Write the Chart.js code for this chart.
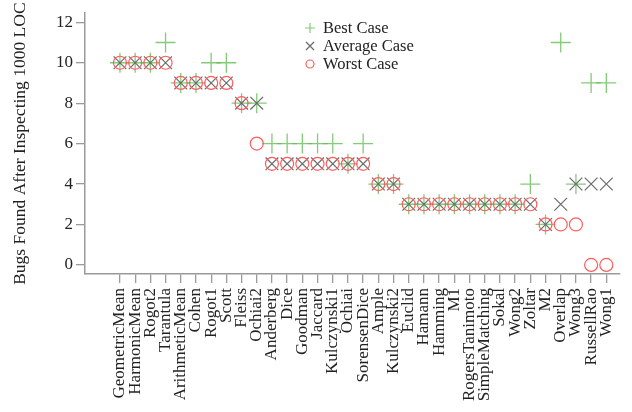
<!DOCTYPE html>
<html>
<head>
<meta charset="utf-8">
<script src="https://cdn.jsdelivr.net/npm/chart.js@4/dist/chart.umd.min.js"></script>
<style>
  html, body { margin: 0; padding: 0; background: #fff; }
  #wrap { width: 632px; height: 412px; position: relative; }
</style>
</head>
<body>
<div id="wrap"><canvas id="bugsChart"></canvas></div>
<script>
// 度量名称 (x 轴)
const metrics = [
  'GeometricMean', 'HarmonicMean', 'Rogot2', 'Tarantula', 'ArithmeticMean', 'Cohen',
  'Rogot1', 'Scott', 'Fleiss', 'Ochiai2', 'Anderberg', 'Dice', 'Goodman', 'Jaccard',
  'Kulczynski1', 'Ochiai', 'SorensenDice', 'Ample', 'Kulczynski2', 'Euclid', 'Hamann',
  'Hamming', 'M1', 'RogersTanimoto', 'SimpleMatching', 'Sokal', 'Wong2', 'Zoltar',
  'M2', 'Overlap', 'Wong3', 'RussellRao', 'Wong1'
];

const bestCase    = [10, 10, 10, 11, 9, 9, 10, 10, 8, 8, 6, 6, 6, 6, 6, 5, 6, 4, 4, 3, 3, 3, 3, 3, 3, 3, 3, 4, 2, 11, 4, 9, 9];
const averageCase = [10, 10, 10, 10, 9, 9, 9, 9, 8, 8, 5, 5, 5, 5, 5, 5, 5, 4, 4, 3, 3, 3, 3, 3, 3, 3, 3, 3, 2, 3, 4, 4, 4];
const worstCase   = [10, 10, 10, 10, 9, 9, 9, 9, 8, 6, 5, 5, 5, 5, 5, 5, 5, 4, 4, 3, 3, 3, 3, 3, 3, 3, 3, 3, 2, 2, 2, 0, 0];

const yTicks = [0, 1, 2, 3, 4, 5, 6, 7, 8, 9, 10, 11, 12];

const GREEN = 'rgba(100, 190, 85, 0.8)';
const GREY = '#6a6a6a';
const RED = '#ff5c5c';
const AXIS = '#9a9a9a';
const FONT = "'Liberation Serif', 'DejaVu Serif', serif";

const toPoints = (values) => values.map((v, i) => ({ x: i, y: v }));

// 图内图例
const insideLegend = {
  id: 'insideLegend',
  afterDraw(chart) {
    const ctx = chart.ctx;
    const items = [
      { text: 'Best Case', style: 'plus', color: GREEN },
      { text: 'Average Case', style: 'x', color: GREY },
      { text: 'Worst Case', style: 'circle', color: RED }
    ];
    const x0 = 310, y0 = 28, dy = 18;
    ctx.save();
    ctx.font = `16.5px ${FONT}`;
    ctx.textBaseline = 'middle';
    ctx.textAlign = 'left';
    items.forEach((it, k) => {
      const y = y0 + k * dy;
      ctx.strokeStyle = it.color;
      ctx.lineWidth = 1.2;
      ctx.beginPath();
      if (it.style === 'plus') {
        ctx.moveTo(x0 - 5, y); ctx.lineTo(x0 + 5, y);
        ctx.moveTo(x0, y - 5); ctx.lineTo(x0, y + 5);
      } else if (it.style === 'x') {
        ctx.moveTo(x0 - 4, y - 4); ctx.lineTo(x0 + 4, y + 4);
        ctx.moveTo(x0 - 4, y + 4); ctx.lineTo(x0 + 4, y - 4);
      } else {
        ctx.arc(x0, y, 4, 0, Math.PI * 2);
      }
      ctx.stroke();
      ctx.fillStyle = '#222';
      ctx.fillText(it.text, x0 + 13, y + 1);
    });
    ctx.restore();
  }
};

new Chart(document.getElementById('bugsChart').getContext('2d'), {
  type: 'scatter',
  data: {
    datasets: [
      {
        label: 'Best Case',
        data: toPoints(bestCase),
        pointStyle: 'cross',
        pointRadius: 10,
        borderColor: GREEN,
        backgroundColor: 'transparent',
        pointBorderWidth: 1.3,
        order: 3
      },
      {
        label: 'Average Case',
        data: toPoints(averageCase),
        pointStyle: 'crossRot',
        pointRadius: 9,
        borderColor: GREY,
        backgroundColor: 'transparent',
        pointBorderWidth: 1.2,
        order: 2
      },
      {
        label: 'Worst Case',
        data: toPoints(worstCase),
        pointStyle: 'circle',
        pointRadius: 6.5,
        borderColor: RED,
        backgroundColor: 'transparent',
        pointBorderWidth: 1.2,
        order: 1
      }
    ]
  },
  options: {
    responsive: true,
    maintainAspectRatio: false,
    animation: false,
    layout: { padding: { top: 9, left: 10, right: 6, bottom: 0 } },
    plugins: {
      legend: { display: false },
      tooltip: { enabled: false }
    },
    scales: {
      x: {
        type: 'linear',
        min: -2.3,
        max: 32.85,
        afterBuildTicks: (scale) => {
          scale.ticks = metrics.map((m, i) => ({ value: i }));
        },
        afterFit: (scale) => { scale.height = 138; },
        ticks: {
          autoSkip: false,
          maxRotation: 90,
          minRotation: 90,
          padding: 5,
          color: '#222',
          font: { family: FONT, size: 17 },
          callback: (v) => metrics[v]
        },
        grid: { drawOnChartArea: false, drawTicks: true, tickLength: 9, color: AXIS, lineWidth: 1.3 },
        border: { display: true, color: AXIS, width: 1.5 }
      },
      y: {
        type: 'linear',
        min: -0.45,
        max: 12.45,
        afterBuildTicks: (scale) => {
          scale.ticks = yTicks.map((v) => ({ value: v }));
        },
        afterFit: (scale) => { scale.width = 75; },
        ticks: {
          padding: 3,
          color: '#222',
          font: { family: FONT, size: 17 },
          callback: (v) => (v % 2 === 0 ? String(v) : '')
        },
        title: {
          display: true,
          text: 'Bugs Found After Inspecting 1000 LOC',
          color: '#222',
          font: { family: FONT, size: 17.5 },
          padding: { top: 0, bottom: 6 }
        },
        grid: { drawOnChartArea: false, drawTicks: true, tickLength: 9, color: AXIS, lineWidth: 1.3 },
        border: { display: true, color: AXIS, width: 1.5 }
      }
    }
  },
  plugins: [insideLegend]
});
</script>
</body>
</html>
